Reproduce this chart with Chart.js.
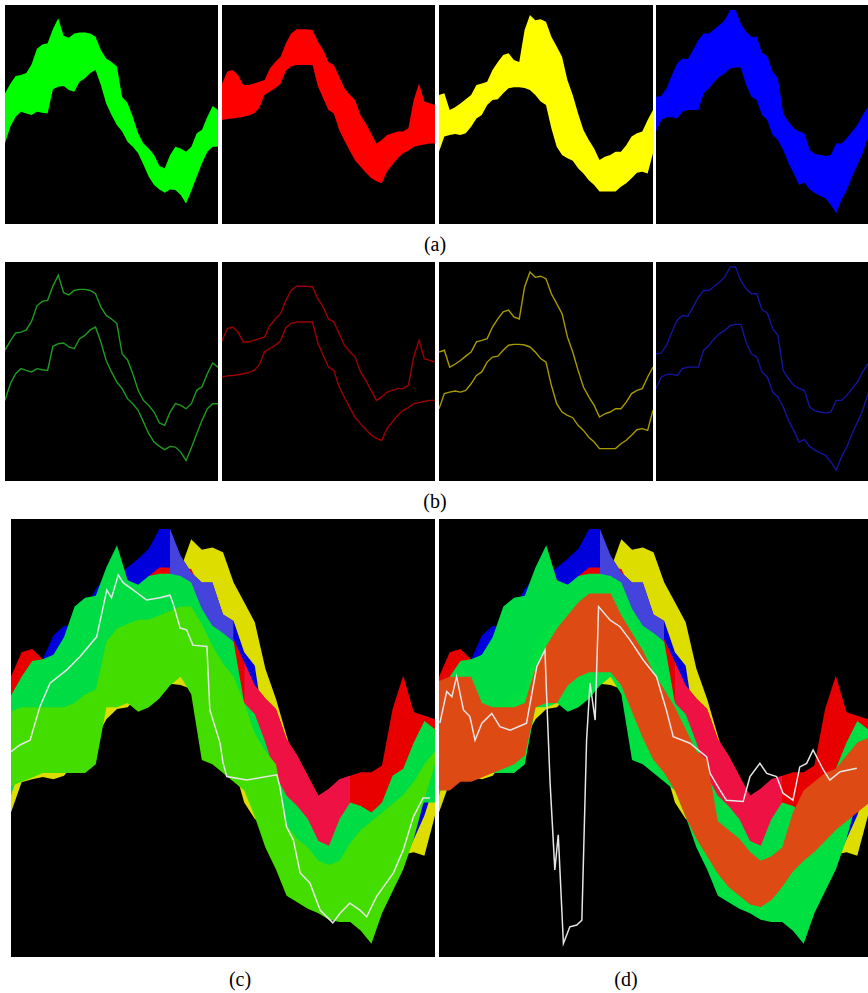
<!DOCTYPE html>
<html>
<head>
<meta charset="utf-8">
<script src="https://cdn.jsdelivr.net/npm/chart.js@4.4.0/dist/chart.umd.min.js"></script>
<style>
  body { margin: 0; background: #fff; width: 868px; height: 993px; position: relative; overflow: hidden; }
  canvas { position: absolute; display: block; }
  .lbl { position: absolute; font-family: "Liberation Serif", "DejaVu Serif", serif; font-size: 20px; color: #000; transform: translate(-50%, -50%); }
</style>
</head>
<body>
<canvas id="a1" width="213" height="219" style="left:5px;top:5px"></canvas>
<canvas id="a2" width="213" height="219" style="left:222px;top:5px"></canvas>
<canvas id="a3" width="214" height="219" style="left:439px;top:5px"></canvas>
<canvas id="a4" width="212" height="219" style="left:656px;top:5px"></canvas>
<div class="lbl" style="left:435px;top:244px">(a)</div>

<canvas id="b1" width="213" height="219" style="left:5px;top:262px"></canvas>
<canvas id="b2" width="213" height="219" style="left:222px;top:262px"></canvas>
<canvas id="b3" width="214" height="219" style="left:439px;top:262px"></canvas>
<canvas id="b4" width="212" height="219" style="left:656px;top:262px"></canvas>
<div class="lbl" style="left:435px;top:501px">(b)</div>

<canvas id="c" width="424" height="438" style="left:11px;top:519px"></canvas>
<canvas id="d" width="429" height="438" style="left:439px;top:519px"></canvas>
<div class="lbl" style="left:240px;top:979px">(c)</div>
<div class="lbl" style="left:626px;top:979px">(d)</div>

<script>
// x positions shared by all bands (percent of panel width)
const X = [0,2.5,5,7.5,10,12.5,15,17.5,20,22.5,25,27.5,30,32.5,35,37.5,40,42.5,45,47.5,50,
           52.5,55,57.5,60,62.5,65,67.5,70,72.5,75,77.5,80,82.5,85,87.5,90,92.5,95,97.5,100];

// band edges (percent of panel height, 0 = bottom)
const greenHi = [59.7,64,67.6,68,69,73,80,82,82.5,89,94,86,85,87,87.5,87.5,87,85.5,79.5,75.6,74,
                 72,58,55.4,49,41.4,36.8,34.5,31.5,26.5,25.4,31.5,35.3,34.5,33,35.3,41.4,43,49,53.9,52];
const greenLo = [36.8,44.4,49,51.3,50.5,49.8,51.3,50.8,50.5,61.5,62.7,63,61.2,60.4,65,66.5,69,70.3,63.5,55,49.8,
                 45.2,42.2,37.6,35.3,32.3,27,21.6,17.8,15.8,14.3,15.8,15.5,13.2,9.4,15.2,21.6,27.7,33,35.3,35.3];
const redHi = [64,69.6,70.3,68,63.5,63.5,64.2,65,65.8,71,74,76.4,82.5,87,88.9,88.9,88.9,88.6,83.3,79.5,74,
               72.6,67.3,62,59,56.6,49.8,46,41.4,36.8,38.4,40.6,41.4,42.2,42.2,43.7,56.6,64.2,55.9,55.1,54.3];
const redLo = [47.5,48,48.2,48.5,49,49.5,50.5,53,59,60.5,62,64,70,72,72.6,72.6,72.6,72.6,63,57.4,52,
               50.5,43,38,33.5,29,26.2,23.5,21,19.5,18.6,24,27,30,32.3,33.5,35.3,35.8,36.3,36.8,36.8];
const yellowHi = [58.9,59.7,52,53.3,55,57,58.9,63.5,64.2,65,70.3,74,77.2,78,74.9,74,88.6,95.4,93,93.5,92.4,
                  85.5,81,76.4,65.8,58.9,50.5,42.9,38.4,34.5,29.2,30.7,31.5,33,33,36,39.9,41.4,42.2,47.5,52];
const yellowLo = [33,39.9,40.6,41.1,40.6,41.4,44.4,48.2,49.8,54.3,56.6,57,59.7,62,62.4,62.4,62.1,61.2,58.9,55.9,54.3,
                  43.7,35.3,31.5,30,28.9,25.4,23.1,20,17.8,14.8,14.8,14.8,14.8,17,18.6,20.9,23.4,23.9,23.1,32.3];
const blueHi = [58.1,58.4,62,68,73.4,75.6,75.2,79.5,84,87,87,88.9,90.9,93.2,97.7,97.7,91.6,87.8,85.5,85.5,78.2,
                76.7,69.6,66.5,50.5,46.7,43.7,42.2,41.4,33.8,32,31.5,31,31.5,36.8,36.8,39.1,42.2,45.2,49.8,53.6];
const blueLo = [42.2,47.5,48.7,48.7,48.2,51.3,52,52,52,59.7,62,65,67.3,68.8,71,71.5,71.5,63.5,58.1,56.6,49.8,
                47.5,40.6,38.4,33.8,27.7,23.1,17.8,18.9,15.8,14,12.8,11.7,8.7,4.9,11,15.5,21.6,26.9,32.3,39.9];

// estimated bands in (c) and (d)
const estCHi = [56,57,57,57,57,57,58,60,61,72,75,76,77,77,78,79,80,80,76,71,67,
                64,58,51,47,44,30,27,25,22,21,22,26,29,31,33,35,37,40,44,47];
const estCLo = [39,40,41,42,42,42,42,42,44,57,57,58,56,57,59,62,64,60,45,44,42,
                40,38,32,25,20,14,12.5,11,10,8.5,8,8,6,3,10,15,20,27,36,44];
const estDHi = [63,64,64,64,58,57,57,57,58,66,71,75,78,81,83,83,83,78,74,70,65,
                61,57,52,47,45,31,29,27,24,22,23,25,33,38,40,42,43,46,49,50];
const estDLo = [38,38,40,40,41,42,43,44,46,57,58,58,62,64,65,65,65,62,56,50,45,
                42,38,32,27,23,19,16,14,12,11.4,13,16,19.5,22,24,26.5,29,31,33,35];

// white tracks
const trackCX = [0,2.1,4.5,6.8,9.2,13.1,16.3,20.2,22.6,23.7,25.3,26.5,28.8,32,35.1,37.5,38.2,39.9,41.4,42.9,
                 46.2,46.9,49.3,50,50.9,55.6,62.7,63.4,65,66.6,68.2,70.5,72.9,75.9,77.6,79.9,82.3,83.9,86.2,90.2,
                 92.5,94.9,97.2,98.8];
const trackCY = [46.9,48.4,49.5,57.1,62.5,65.5,68.6,73.1,83.8,82,87.2,85.4,83.8,81.5,82,82.6,80.8,75.1,74.7,71.2,
                 70.9,56.4,48.9,44.3,41.2,40.4,41.6,38.9,29.7,26.7,19.2,16.9,10.7,7.8,10,12.3,10.7,9.2,13.8,19.2,
                 24.4,32,36.3,36.3];
const trackDX = [0.2,1.8,3,4.1,5.7,7.2,8.4,10,12.3,14.2,16.6,20.4,22.8,24.7,25.1,25.9,27,27.8,29,30.5,
                 32.1,33.3,34.4,35.2,36.4,37.2,39.9,42.2,44.5,47.6,50.7,53,54.6,58.5,62.4,63.2,65.5,67,70.9,72.5,
                 74.8,76.4,78.7,80.2,82.5,84.1,85.7,87.2,89.6,91.1,93.5,97.4];
const trackDY = [53.4,60.6,59.4,64,56.4,54.9,49.5,53.4,55.6,52.6,51.8,53.4,66.3,70.1,59.4,39.7,19.9,27.9,3.1,6.9,
                 7.3,8.4,49.5,62.5,54.1,80,76.9,75.4,72.4,67.8,64,56.4,50.3,48.8,45.7,41.9,38.1,35.8,35.5,41.2,
                 44.2,41.9,41.2,37.4,35.8,43.4,44.2,47.3,42.7,40.4,42.3,43.1];

const pts = (xs, ys) => ys.map((y, i) => ({ x: xs[i], y }));

// hi fills down to lo (the next dataset); i0..i1 picks a stretch of X
function band(hi, lo, color, i0 = 0, i1 = X.length - 1) {
  const xs = X.slice(i0, i1 + 1);
  return [
    { data: pts(xs, hi.slice(i0, i1 + 1)), fill: '+1', backgroundColor: color, borderColor: 'transparent', borderWidth: 0, pointRadius: 0 },
    { data: pts(xs, lo.slice(i0, i1 + 1)), fill: false, borderColor: 'transparent', borderWidth: 0, pointRadius: 0 },
  ];
}
function line(xs, ys, color, w) {
  return { data: pts(xs, ys), fill: false, borderColor: color, borderWidth: w, pointRadius: 0 };
}

const blackBg = {
  id: 'blackBg',
  beforeDraw(c) {
    c.ctx.save();
    c.ctx.fillStyle = '#000';
    c.ctx.fillRect(0, 0, c.width, c.height);
    c.ctx.restore();
  }
};

// datasets listed top layer first (chart.js draws index 0 last)
function panel(id, datasets) {
  new Chart(document.getElementById(id), {
    type: 'line',
    data: { datasets },
    options: {
      responsive: false, animation: false, devicePixelRatio: 1, events: [],
      layout: { padding: 0 },
      plugins: { legend: { display: false }, tooltip: { enabled: false } },
      elements: { line: { tension: 0 } },
      scales: {
        x: { type: 'linear', min: 0, max: 100, display: false },
        y: { min: 0, max: 100, display: false }
      }
    },
    plugins: [blackBg]
  });
}

// (a)
panel('a1', band(greenHi, greenLo, '#00ff00'));
panel('a2', band(redHi, redLo, '#ff0000'));
panel('a3', band(yellowHi, yellowLo, '#ffff00'));
panel('a4', band(blueHi, blueLo, '#0000ff'));

// (b)
panel('b1', [line(X, greenHi, '#1f9a1f', 1.4), line(X, greenLo, '#1f9a1f', 1.4)]);
panel('b2', [line(X, redHi, '#9c0000', 1.4), line(X, redLo, '#9c0000', 1.4)]);
panel('b3', [line(X, yellowHi, '#a89a00', 1.4), line(X, yellowLo, '#a89a00', 1.4)]);
panel('b4', [line(X, blueHi, '#14149c', 1.4), line(X, blueLo, '#14149c', 1.4)]);

// shared under-layers of (c) and (d): where red sits on blue it reads crimson,
// where blue sits on red/yellow it reads pale blue
const baseLayers = () => [
  ...band(blueHi, blueLo, '#4444dd', 15, 21),
  ...band(redHi, redLo, '#ee1144', 22, 32),
  ...band(redHi, redLo, '#e80000'),
  ...band(blueHi, blueLo, '#0000dd'),
  ...band(yellowHi, yellowLo, '#dddd00'),
];

// (c)
panel('c', [
  line(trackCX, trackCY, '#e6e6e6', 1.5),
  ...band(estCHi, estCLo, '#44dd00'),
  ...band(greenHi, greenLo, '#00dd44'),
  ...baseLayers(),
]);

// (d)
panel('d', [
  line(trackDX, trackDY, '#e6e6e6', 1.5),
  ...band(estDHi, estDLo, '#dd4a14'),
  ...band(estCHi, estCLo, '#00e040'),
  ...band(greenHi, greenLo, '#00dd44'),
  ...baseLayers(),
]);
</script>
</body>
</html>
